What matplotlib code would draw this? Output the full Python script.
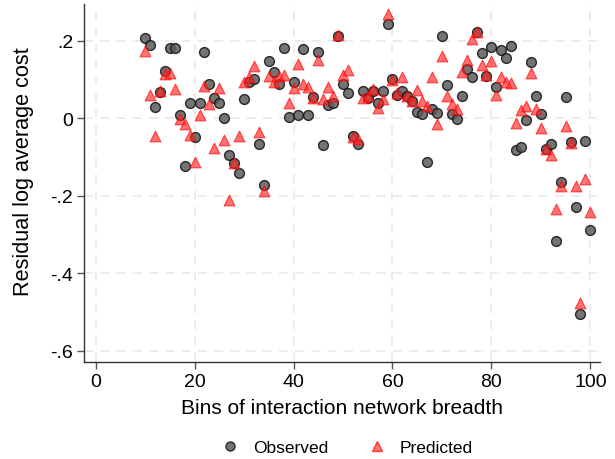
import numpy as np
import matplotlib
matplotlib.use("Agg")
import matplotlib.pyplot as plt
from matplotlib.lines import Line2D

plt.rcParams['font.family'] = ['Liberation Sans', 'DejaVu Sans']

# bins of interaction network breadth
bins = list(range(10, 101))

observed = [0.206, 0.188, 0.028, 0.068, 0.122, 0.180, 0.180, 0.008, -0.123, 0.040,
            -0.049, 0.040, 0.171, 0.088, 0.051, 0.039, 0.000, -0.095, -0.117, -0.142,
            0.050, 0.094, 0.101, -0.066, -0.172, 0.148, 0.119, 0.087, 0.180, 0.003,
            0.093, 0.008, 0.178, 0.008, 0.054, 0.171, -0.069, 0.035, 0.040, 0.211,
            0.089, 0.066, -0.046, -0.067, 0.071, 0.053, 0.069, 0.038, 0.071, 0.242,
            0.100, 0.060, 0.071, 0.057, 0.045, 0.015, 0.010, -0.113, 0.023, 0.013,
            0.212, 0.085, 0.010, -0.003, 0.057, 0.126, 0.107, 0.221, 0.169, 0.109,
            0.184, 0.081, 0.175, 0.155, 0.187, -0.083, -0.075, -0.005, 0.145, 0.057,
            0.010, -0.080, -0.067, -0.317, -0.166, 0.055, -0.061, -0.230, -0.505, -0.059,
            -0.288]

predicted = [0.172, 0.059, -0.047, 0.070, 0.113, 0.115, 0.075, -0.002, -0.014, -0.044,
             -0.114, 0.009, 0.082, 0.036, -0.078, 0.078, -0.057, -0.212, -0.116, -0.045,
             0.092, 0.107, 0.135, -0.035, -0.187, 0.108, 0.092, 0.109, 0.111, 0.040,
             0.077, 0.140, 0.088, 0.081, 0.053, 0.149, 0.049, 0.080, 0.056, 0.214,
             0.112, 0.123, -0.048, -0.054, 0.053, 0.058, 0.075, 0.025, 0.049, 0.268,
             0.098, 0.064, 0.106, 0.058, 0.044, 0.073, 0.044, 0.032, 0.107, -0.014,
             0.161, 0.056, 0.036, 0.023, 0.118, 0.150, 0.204, 0.223, 0.138, 0.111,
             0.148, 0.060, 0.105, 0.093, 0.090, -0.013, 0.021, 0.030, 0.116, 0.024,
             -0.025, -0.079, -0.096, -0.235, -0.174, -0.020, -0.064, -0.175, -0.477, -0.156,
             -0.242]

xticks = [0, 20, 40, 60, 80, 100]
yticks = [0.2, 0, -0.2, -0.4, -0.6]
ytick_labels = ['.2', '0', '-.2', '-.4', '-.6']

fig = plt.figure(figsize=(6.15, 4.6), dpi=100)
ax = fig.add_axes([0.137, 0.2115, 0.839, 0.7775])

obs_kw = dict(marker='o', s=50, facecolor='#5c5c5c', edgecolor='#111111',
              linewidths=1.0, alpha=0.85, zorder=3)
pred_kw = dict(marker='^', s=60, facecolor=(1, 0.15, 0.15), edgecolor=(1, 0, 0),
               linewidths=0.8, alpha=0.65, zorder=4)

ax.scatter(bins, observed, **obs_kw)
ax.scatter(bins, predicted, **pred_kw)

ax.set_xlim(-2.3, 102)
ax.set_ylim(-0.628, 0.294)
ax.set_xticks(xticks)
ax.set_yticks(yticks)
ax.set_yticklabels(ytick_labels)

ax.grid(True, color='#ebebeb', linestyle=(0, (5, 4)), linewidth=1.3, zorder=0)
ax.set_axisbelow(True)
for s in ['top', 'right']:
    ax.spines[s].set_visible(False)
for s in ['left', 'bottom']:
    ax.spines[s].set_color('#333333')
    ax.spines[s].set_linewidth(1.0)
ax.tick_params(axis='both', direction='out', length=5, width=1, color='#555555',
               labelsize=14, pad=3)

ax.set_xlabel('Bins of interaction network breadth', fontsize=15, labelpad=6)
ax.set_ylabel('Residual log average cost', fontsize=15.6)
ax.yaxis.set_label_coords(-0.098, 0.535)

handles = [
    Line2D([], [], linestyle='none', marker='o', markersize=6.5,
           markerfacecolor='#5c5c5c', markeredgecolor='#111111', alpha=0.85),
    Line2D([], [], linestyle='none', marker='^', markersize=7,
           markerfacecolor=(1, 0.15, 0.15), markeredgecolor=(1, 0, 0), alpha=0.65),
]
fig.legend(handles, ['Observed', 'Predicted'], loc='center', ncol=2,
           bbox_to_anchor=(0.557, 0.026), frameon=False, fontsize=12.5,
           handletextpad=0.3, columnspacing=1.8)

fig.savefig('out.png', dpi=100)
